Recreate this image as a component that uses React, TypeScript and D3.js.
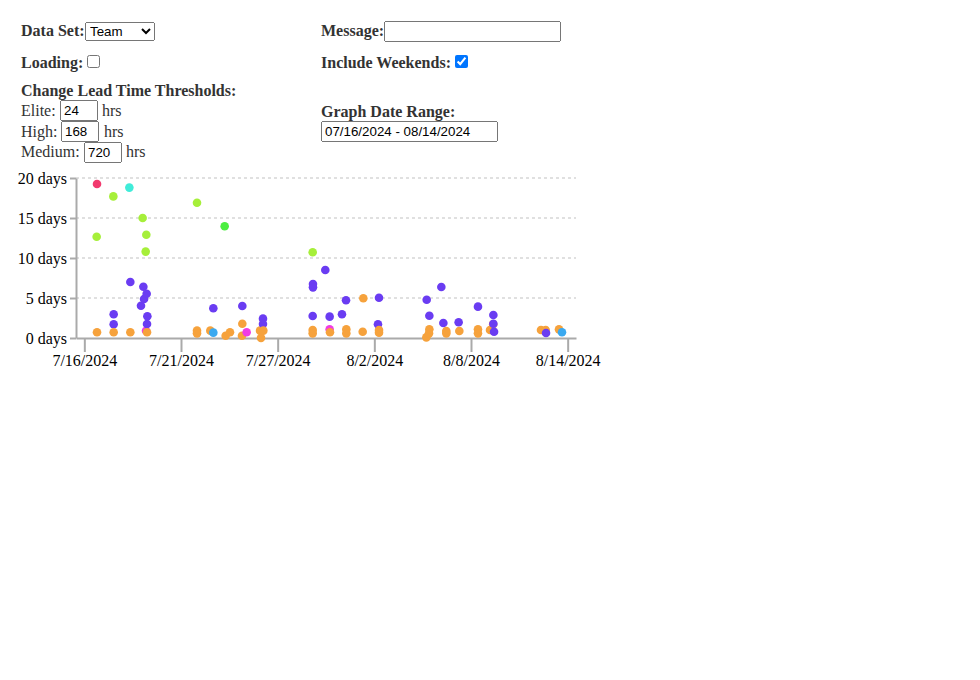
import { useRef, useEffect } from 'react';
import * as d3 from 'd3';

// lead time in days, keyed by deploy time
type Pt = [string, number];

const pinkPts: Pt[] = [['2024-07-16T18:15', 19.25]];
const cyanPts: Pt[] = [['2024-07-18T16:50', 18.8]];
const limePts: Pt[] = [
  ['2024-07-16T17:45', 12.66],
  ['2024-07-17T17:45', 17.7],
  ['2024-07-19T12:00', 15.0],
  ['2024-07-19T17:15', 12.9],
  ['2024-07-19T16:20', 10.8],
  ['2024-07-22T18:15', 16.9],
  ['2024-07-29T16:50', 10.71],
];
const greenPts: Pt[] = [['2024-07-24T10:05', 13.96]];
const purplePts: Pt[] = [
  ['2024-07-17T18:15', 2.96],
  ['2024-07-17T18:15', 1.71],
  ['2024-07-18T18:15', 7.0],
  ['2024-07-19T09:35', 4.04],
  ['2024-07-19T13:00', 6.4],
  ['2024-07-19T14:00', 4.87],
  ['2024-07-19T17:45', 5.54],
  ['2024-07-19T18:45', 2.71],
  ['2024-07-19T18:15', 1.75],
  ['2024-07-23T17:45', 3.71],
  ['2024-07-25T11:30', 4.0],
  ['2024-07-26T17:15', 2.42],
  ['2024-07-26T17:15', 1.75],
  ['2024-07-29T17:15', 6.75],
  ['2024-07-29T17:15', 6.33],
  ['2024-07-29T16:50', 2.75],
  ['2024-07-30T11:00', 8.5],
  ['2024-07-30T17:15', 2.67],
  ['2024-07-31T11:00', 2.96],
  ['2024-07-31T16:50', 4.71],
  ['2024-08-02T16:20', 5.04],
  ['2024-08-02T14:50', 1.71],
  ['2024-08-05T13:00', 4.79],
  ['2024-08-05T16:50', 2.79],
  ['2024-08-06T10:05', 6.375],
  ['2024-08-06T13:00', 1.875],
  ['2024-08-07T11:00', 1.96],
  ['2024-08-08T14:50', 3.92],
  ['2024-08-09T13:00', 2.87],
  ['2024-08-09T13:00', 1.79],
  ['2024-08-09T14:00', 0.79],
  ['2024-08-12T16:50', 0.62],
];
const orangePts: Pt[] = [
  ['2024-07-16T18:15', 0.71],
  ['2024-07-17T18:15', 0.71],
  ['2024-07-18T18:15', 0.71],
  ['2024-07-19T18:15', 0.71],
  ['2024-07-22T18:15', 0.92],
  ['2024-07-22T18:15', 0.58],
  ['2024-07-23T13:25', 0.92],
  ['2024-07-24T11:30', 0.29],
  ['2024-07-24T17:45', 0.71],
  ['2024-07-25T11:30', 1.79],
  ['2024-07-25T11:00', 0.29],
  ['2024-07-26T13:00', 0.92],
  ['2024-07-26T17:45', 0.92],
  ['2024-07-26T14:25', 0.02],
  ['2024-07-29T16:50', 1.0],
  ['2024-07-29T16:50', 0.58],
  ['2024-07-30T17:45', 0.71],
  ['2024-07-31T17:15', 1.08],
  ['2024-07-31T17:15', 0.58],
  ['2024-08-01T16:50', 0.79],
  ['2024-08-01T17:45', 4.96],
  ['2024-08-02T16:20', 1.0],
  ['2024-08-02T16:20', 0.67],
  ['2024-08-05T16:50', 1.08],
  ['2024-08-05T16:20', 0.58],
  ['2024-08-05T12:30', 0.08],
  ['2024-08-06T17:15', 0.87],
  ['2024-08-06T17:15', 0.58],
  ['2024-08-07T12:00', 0.87],
  ['2024-08-08T14:50', 1.08],
  ['2024-08-08T14:50', 0.58],
  ['2024-08-09T08:10', 1.0],
  ['2024-08-09T12:45', 1.71],
  ['2024-08-12T09:35', 1.0],
  ['2024-08-12T16:20', 1.0],
  ['2024-08-13T11:30', 1.08],
];
const magentaPts: Pt[] = [
  ['2024-07-19T16:50', 0.9],
  ['2024-07-25T17:45', 0.71],
  ['2024-07-30T17:15', 1.08],
];
const bluePts: Pt[] = [
  ['2024-07-23T17:45', 0.67],
  ['2024-08-13T15:50', 0.71],
];

const seriesList: { color: string; pts: Pt[] }[] = [
  { color: '#f23a6e', pts: pinkPts },
  { color: '#40ecd9', pts: cyanPts },
  { color: '#a6ef3a', pts: limePts },
  { color: '#4cee40', pts: greenPts },
  { color: '#6a3cf2', pts: purplePts },
  { color: '#f6a23c', pts: orangePts },
  { color: '#f03ce4', pts: magentaPts },
  { color: '#3aa9f0', pts: bluePts },
];

const rangeStart = '2024-07-16T00:00';
const rangeEnd = '2024-08-14T00:00';
const yTicks = [0, 5, 10, 15, 20];
const xTickCount = 6;

function Chart() {
  const svgRef = useRef<SVGSVGElement>(null);

  useEffect(() => {
    if (!svgRef.current) return;
    const svg = d3.select(svgRef.current);
    svg.selectAll('*').remove();

    const margin = { top: 13, left: 68 };
    const innerW = 500;
    const innerH = 160;
    const start = new Date(rangeStart);
    const end = new Date(rangeEnd);
    const halfDay = 12 * 3600 * 1000;

    const x = d3.scaleTime()
      .domain([new Date(+start - halfDay), new Date(+end + halfDay)])
      .range([0, innerW]);
    const y = d3.scaleLinear().domain([0, 20]).range([innerH, 0]);

    const g = svg.append('g').attr('transform', 'translate(' + margin.left + ',' + margin.top + ')');

    // dashed gridlines
    g.selectAll('line.grid')
      .data(yTicks.filter((t) => t > 0))
      .join('line')
      .attr('class', 'grid')
      .attr('x1', 0)
      .attr('x2', innerW)
      .attr('y1', (d) => y(d))
      .attr('y2', (d) => y(d))
      .attr('stroke', '#e0e0e0')
      .attr('stroke-width', 2)
      .attr('stroke-dasharray', '3,3');

    const xTickVals = d3.range(xTickCount).map(
      (i) => new Date(+start + ((+end - +start) * i) / (xTickCount - 1))
    );

    const styleAxis = (el: d3.Selection<SVGGElement, unknown, null, undefined>) => {
      el.attr('font-size', 16).attr('font-family', 'serif');
      el.selectAll('path.domain').attr('stroke', '#aaaaaa').attr('stroke-width', 2);
      el.selectAll('.tick line').attr('stroke', '#aaaaaa').attr('stroke-width', 2);
      el.selectAll('.tick text').attr('fill', '#000');
    };

    g.append('g')
      .attr('transform', 'translate(0,' + innerH + ')')
      .call(
        d3.axisBottom(x)
          .tickValues(xTickVals)
          .tickSize(14)
          .tickSizeOuter(0)
          .tickFormat((d) => d3.timeFormat('%-m/%-d/%Y')(d as Date))
      )
      .call(styleAxis);

    g.append('g')
      .call(
        d3.axisLeft(y)
          .tickValues(yTicks)
          .tickSize(6)
          .tickSizeOuter(0)
          .tickFormat((d) => d + ' days')
      )
      .call(styleAxis);

    // points, drawn in deploy-time order
    const all = seriesList
      .flatMap((s) => s.pts.map((p) => ({ date: new Date(p[0]), days: p[1], color: s.color })))
      .sort((a, b) => +a.date - +b.date);

    g.selectAll('circle.pt')
      .data(all)
      .join('circle')
      .attr('class', 'pt')
      .attr('cx', (d) => x(d.date))
      .attr('cy', (d) => y(d.days))
      .attr('r', 4.3)
      .attr('fill', (d) => d.color);
  }, []);

  return (
    <svg
      ref={svgRef}
      width={620}
      height={220}
      style={{ position: 'absolute', left: 0, top: 157, overflow: 'visible' }}
    />
  );
}

// page coordinates -> container coordinates (body margin is 8px)
const px = (v: number) => v - 8;
const textTop = (baseline: number) => baseline - 8 - 15;

function Txt({ x, base, bold, children }: { x: number; base: number; bold?: boolean; children: string }) {
  return (
    <div
      style={{
        position: 'absolute',
        left: px(x),
        top: textTop(base),
        lineHeight: '20px',
        fontSize: 16,
        fontWeight: bold ? 'bold' : 'normal',
        color: '#333',
        whiteSpace: 'nowrap',
      }}
    >
      {children}
    </div>
  );
}

const boxStyle = (x: number, y: number, w: number, h: number): React.CSSProperties => ({
  position: 'absolute',
  left: px(x),
  top: px(y),
  width: w,
  height: h,
  boxSizing: 'border-box',
  margin: 0,
});

export default function App() {
  return (
    <div style={{ position: 'relative', width: 964, height: 660, fontFamily: 'serif' }}>
      <Txt x={21} base={36} bold>Data Set:</Txt>
      <select style={boxStyle(85, 22, 70, 19)} defaultValue="Team">
        <option>Team</option>
      </select>
      <Txt x={321} base={36} bold>Message:</Txt>
      <input type="text" readOnly style={boxStyle(384, 21, 177, 21)} defaultValue="" />

      <Txt x={21} base={68} bold>Loading:</Txt>
      <input type="checkbox" readOnly style={boxStyle(87, 55, 13, 13)} />
      <Txt x={321} base={68} bold>Include Weekends:</Txt>
      <input type="checkbox" readOnly defaultChecked style={boxStyle(455, 55, 13, 13)} />

      <Txt x={21} base={96} bold>Change Lead Time Thresholds:</Txt>
      <Txt x={21} base={116}>Elite:</Txt>
      <input type="text" readOnly style={boxStyle(60, 100, 38, 21)} defaultValue="24" />
      <Txt x={102} base={116}>hrs</Txt>
      <Txt x={21} base={137}>High:</Txt>
      <input type="text" readOnly style={boxStyle(61, 121, 38, 21)} defaultValue="168" />
      <Txt x={104} base={137}>hrs</Txt>
      <Txt x={21} base={157}>Medium:</Txt>
      <input type="text" readOnly style={boxStyle(84, 142, 38, 21)} defaultValue="720" />
      <Txt x={126} base={157}>hrs</Txt>

      <Txt x={321} base={117} bold>Graph Date Range:</Txt>
      <input type="text" readOnly style={boxStyle(321, 121, 177, 21)} defaultValue="07/16/2024 - 08/14/2024" />

      <Chart />
    </div>
  );
}
